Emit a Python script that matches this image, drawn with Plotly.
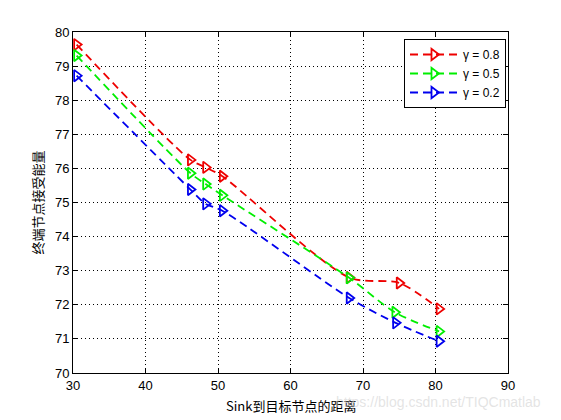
import plotly.graph_objects as go

x_red = [30.5, 46.2, 48.3, 50.6, 68.1, 75.0, 80.5]
y_red = [79.63, 76.25, 76.03, 75.77, 72.80, 72.64, 71.88]

x_green = [30.5, 46.2, 48.3, 50.6, 68.1, 74.4, 80.5]
y_green = [79.31, 75.86, 75.54, 75.21, 72.79, 71.78, 71.22]

x_blue = [30.5, 46.2, 48.3, 50.6, 68.1, 74.5, 80.5]
y_blue = [78.72, 75.38, 74.96, 74.76, 72.20, 71.47, 70.93]

series = [
    ("γ = 0.8", x_red, y_red, "#ee0000"),
    ("γ = 0.5", x_green, y_green, "#00ee00"),
    ("γ = 0.2", x_blue, y_blue, "#0000ee"),
]

x_ticks = [30, 40, 50, 60, 70, 80, 90]
y_ticks = [70, 71, 72, 73, 74, 75, 76, 77, 78, 79, 80]

x_title = "Sink到目标节点的距离"
y_title = "终端节点接受能量"

fig = go.Figure()
for name, xs, ys, c in series:
    fig.add_trace(go.Scatter(
        x=xs, y=ys, name=name, mode="lines+markers",
        line=dict(color=c, width=1.8, dash="8px,5px", shape="spline", smoothing=0.8),
        marker=dict(symbol="triangle-right-open", size=10, color=c, line=dict(width=1.8, color=c)),
    ))

axis_common = dict(
    showline=True, linecolor="black", linewidth=1, mirror="ticks",
    ticks="inside", ticklen=5, tickcolor="black",
    showgrid=True, gridcolor="black", gridwidth=1, griddash="1px,3px",
    zeroline=False, automargin=False,
    tickfont=dict(family="Liberation Sans, Arial", size=13, color="black"),
)

fig.update_xaxes(range=[30, 90], tickvals=x_ticks, **axis_common)
fig.update_yaxes(range=[70, 80], tickvals=y_ticks, **axis_common,
                 title=dict(text=y_title, font=dict(family="Noto Sans CJK SC, Liberation Sans", size=13, color="black"), standoff=8))

fig.add_annotation(
    text=x_title, xref="paper", yref="paper",
    x=0.5, y=-(405 - 373) / 341, xanchor="center", yanchor="middle",
    showarrow=False, font=dict(family="Noto Sans CJK SC, Liberation Sans", size=13, color="black"),
)

fig.add_annotation(
    text="https://blog.csdn.net/TIQCmatlab", xref="paper", yref="paper",
    x=(543 - 73) / 435, y=-(402 - 373) / 341, xanchor="right", yanchor="middle",
    showarrow=False, font=dict(family="Liberation Sans, Arial", size=14, color="rgba(205,205,205,0.55)"),
)

fig.update_layout(
    width=561, height=420,
    margin=dict(l=73, r=53, t=32, b=47),
    plot_bgcolor="white", paper_bgcolor="white",
    legend=dict(
        x=(506 - 73) / 435, y=1 - (39 - 32) / 341, xanchor="right", yanchor="top",
        bordercolor="black", borderwidth=1, bgcolor="white",
        font=dict(family="Liberation Sans, Arial", size=12, color="black"),
        tracegroupgap=0, itemwidth=48,
    ),
    showlegend=True,
)

fig.write_html("out.html", config={"displayModeBar": False},
               post_script="document.body.style.margin='0';")
